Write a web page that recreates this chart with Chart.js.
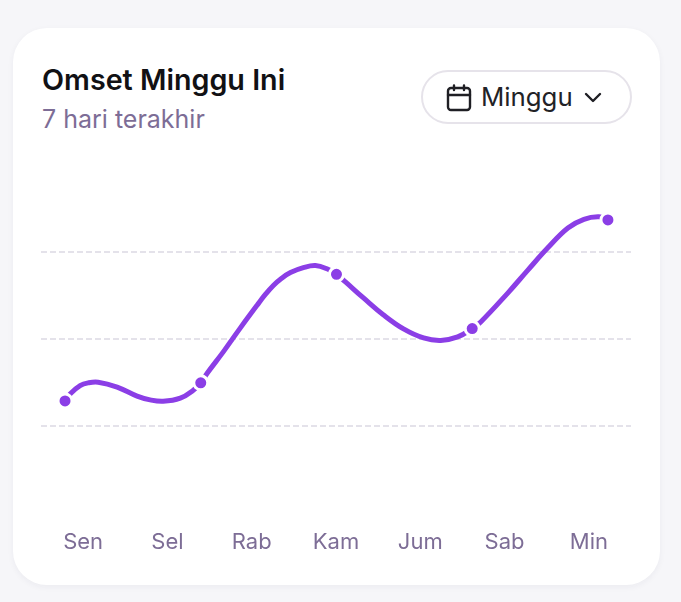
<!DOCTYPE html>
<html>
<head>
<meta charset="utf-8">
<title>Omset Minggu Ini</title>
<script src="https://cdn.jsdelivr.net/npm/chart.js@4"></script>
<style>
    html, body { margin: 0; padding: 0; width: 681px; height: 602px; overflow: hidden; background: #f6f6f9; font-family: Inter, sans-serif; }
    .card { position: absolute; left: 13px; top: 28px; width: 647px; height: 557px; background: #fff; border-radius: 34px; box-shadow: 0 2px 6px rgba(40, 30, 70, 0.05); }
    .title { position: absolute; left: 42px; top: 63px; font-size: 28.7px; line-height: 34px; font-weight: 600; color: #111114; white-space: nowrap; }
    .subtitle { position: absolute; left: 42px; top: 103px; font-size: 25px; line-height: 32px; color: #7d6d96; white-space: nowrap; }
    .pill { position: absolute; left: 421px; top: 70px; width: 207px; height: 50px; border: 2px solid #e6e3ea; border-radius: 27px; background: #fff; }
    .pill span { position: absolute; left: 58px; top: 8px; font-size: 25.8px; line-height: 34px; color: #222226; }
    .pill svg { position: absolute; }
    #chartWrap { position: absolute; left: 41px; top: 165px; width: 590px; height: 400px; }
</style>
</head>
<body>
<div class="card"></div>
<div class="title">Omset Minggu Ini</div>
<div class="subtitle">7 hari terakhir</div>
<div class="pill">
    <svg style="left:23px;top:12px" width="26" height="29" viewBox="0 0 26 29" fill="none" stroke="#1f1f24" stroke-width="2.4" stroke-linecap="round" stroke-linejoin="round">
        <rect x="2" y="4" width="22" height="22" rx="3"></rect>
        <path d="M2 11H24M8 1.5V6M18 1.5V6"></path>
    </svg>
    <span>Minggu</span>
    <svg style="left:160px;top:20px" width="20" height="12" viewBox="0 0 20 12" fill="none" stroke="#1f1f24" stroke-width="2.4" stroke-linecap="round" stroke-linejoin="round">
        <path d="M3 2L10 9L17 2"></path>
    </svg>
</div>
<div id="chartWrap"><canvas id="omsetChart" width="590" height="400"></canvas></div>

<script>
// Tick labels along the bottom
const days = ['Sen', 'Sel', 'Rab', 'Kam', 'Jum', 'Sab', 'Min'];

// The five marked readings
const markerPos = [0, 1, 2, 3, 4];
const markerValues = [32.2, 37.4, 68.6, 53.0, 84.2];

// The curve, its bends don't follow a stock tension
const curvePos = [0, 0.037, 0.111, 0.17, 0.244, 0.384, 0.531, 0.627, 0.723, 0.849, 0.945,
    1, 1.046, 1.166, 1.292, 1.417, 1.476, 1.535, 1.594, 1.661, 1.756, 1.845, 1.934,
    2, 2.066, 2.199, 2.347, 2.494, 2.642, 2.768, 2.893,
    3, 3.063, 3.262, 3.41, 3.557, 3.705, 3.823, 3.934, 4];
const curveValues = [32.2, 34.2, 36.6, 37.4, 37.6, 36.2, 33.6, 32.5, 32.1, 33.0, 35.3,
    37.4, 40.1, 46.3, 53.2, 59.8, 62.8, 65.4, 67.4, 69.1, 70.5, 71.1, 70.1,
    68.6, 66.4, 61.8, 56.9, 52.9, 50.3, 49.6, 50.6,
    53.0, 54.9, 63.2, 69.8, 76.2, 81.9, 84.4, 85.1, 84.2];

const yTicks = [0, 25, 50, 75, 100];

const ctx = document.getElementById('omsetChart').getContext('2d');

new Chart(ctx, {
    type: 'line',
    data: {
        datasets: [
            {
                label: 'Omset',
                data: curvePos.map((p, i) => ({ x: p, y: curveValues[i] })),
                borderColor: '#8b3ee6',
                borderWidth: 5,
                borderCapStyle: 'butt',
                tension: 0.4,
                pointRadius: 0,
                fill: false,
                order: 2
            },
            {
                label: 'Titik',
                data: markerPos.map((p, i) => ({ x: p, y: markerValues[i] })),
                showLine: false,
                pointRadius: 7,
                pointBorderWidth: 3,
                pointBackgroundColor: '#8b3ee6',
                pointBorderColor: '#ffffff',
                order: 1
            }
        ]
    },
    options: {
        responsive: false,
        animation: false,
        layout: { padding: 0, autoPadding: false },
        plugins: {
            legend: { display: false },
            title: { display: false },
            tooltip: { enabled: false }
        },
        scales: {
            x: {
                type: 'linear',
                display: false,
                min: -0.177,
                max: 4.17
            },
            xDays: {
                type: 'category',
                position: 'bottom',
                labels: days,
                offset: true,
                border: { display: false },
                grid: { display: false, drawTicks: false },
                afterFit: axis => { axis.height = 52; },
                ticks: {
                    color: '#7d6d96',
                    font: { family: 'Inter', size: 22 },
                    padding: 16,
                    maxRotation: 0,
                    autoSkip: false
                }
            },
            y: {
                min: 0,
                max: 100,
                afterBuildTicks: axis => { axis.ticks = yTicks.map(v => ({ value: v })); },
                border: { display: false, dash: [6, 3] },
                grid: {
                    drawTicks: false,
                    lineWidth: 2,
                    color: c => (c.tick.value === 0 || c.tick.value === 100) ? 'rgba(0,0,0,0)' : '#e4e2ea'
                },
                ticks: { display: false }
            }
        }
    }
});
</script>
</body>
</html>
